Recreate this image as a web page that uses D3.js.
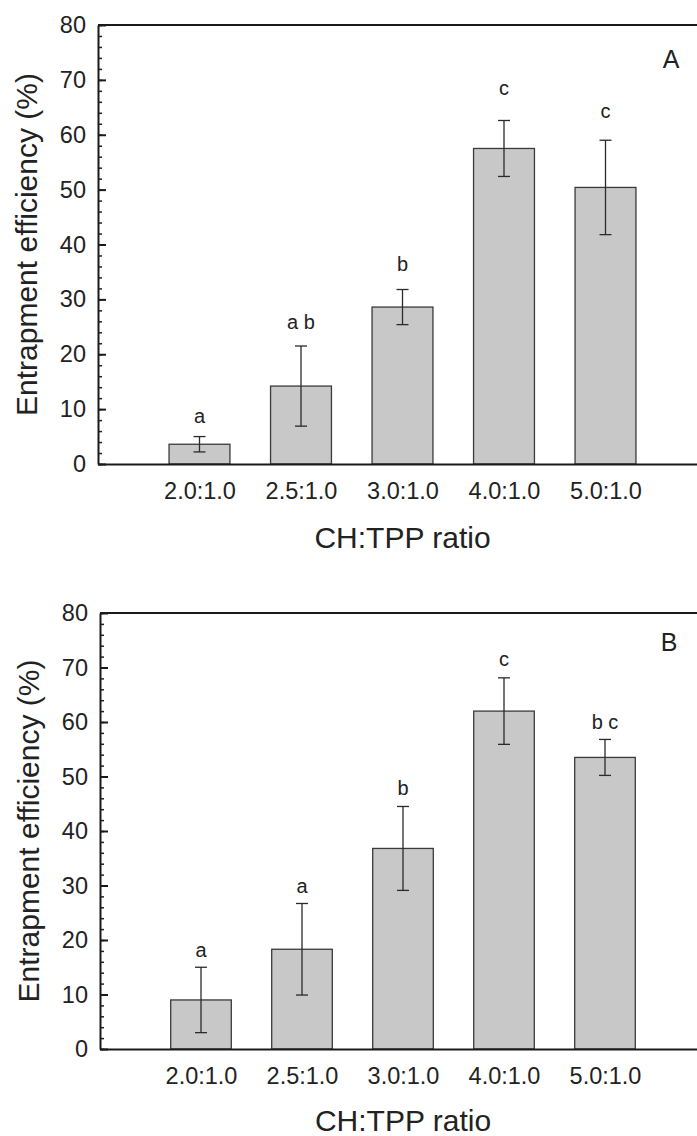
<!DOCTYPE html>
<html>
<head>
<meta charset="utf-8">
<script src="https://cdn.jsdelivr.net/npm/d3@7"></script>
<style>
  body { margin: 0; background: #fff; }
  svg { display: block; font-family: Arial, "Liberation Sans", sans-serif; }
</style>
</head>
<body>
<svg id="chart" width="697" height="1136"></svg>
<script>
// --- data ---
var ratios = ["2.0:1.0", "2.5:1.0", "3.0:1.0", "4.0:1.0", "5.0:1.0"];
var yTicks = [0, 10, 20, 30, 40, 50, 60, 70, 80];

var meansA = [3.6, 14.2, 28.6, 57.5, 50.4];
var errA = [1.4, 7.3, 3.2, 5.1, 8.6];
var lettersA = ["a", "a b", "b", "c", "c"];
var letterAtA = [7.5, 24.6, 35.1, 67.2, 63.1];

var meansB = [9.0, 18.3, 36.8, 62.0, 53.5];
var errB = [6.0, 8.4, 7.7, 6.1, 3.3];
var lettersB = ["a", "a", "b", "c", "b c"];
var letterAtB = [16.9, 28.6, 46.6, 70.2, 58.7];

var svg = d3.select("#chart");

// panel layout (pixels)
var panels = [
  { tag: "A", means: meansA, err: errA, letters: lettersA, letterAt: letterAtA,
    x0: 98, x1: 707, yTop: 25, yBot: 464, titleX: 37, xTitleY: 548, tagX: 671, tagY: 68 },
  { tag: "B", means: meansB, err: errB, letters: lettersB, letterAt: letterAtB,
    x0: 100, x1: 706, yTop: 613, yBot: 1049, titleX: 39, xTitleY: 1131, tagX: 669, tagY: 651 }
];

panels.forEach(function(p) {
  var x = d3.scalePoint().domain(ratios).range([p.x0, p.x1]).padding(1);
  var y = d3.scaleLinear().domain([0, 80]).range([p.yBot, p.yTop]);
  var bw = x.step() * 0.6;
  var g = svg.append("g");

  var rows = ratios.map(function(r, i) {
    return { r: r, m: p.means[i], e: p.err[i], l: p.letters[i], la: p.letterAt[i] };
  });

  // bars
  g.selectAll("rect.bar").data(rows).enter().append("rect")
    .attr("class", "bar")
    .attr("x", function(d) { return x(d.r) - bw / 2; })
    .attr("y", function(d) { return y(d.m); })
    .attr("width", bw)
    .attr("height", function(d) { return y(0) - y(d.m); })
    .attr("fill", "#c8c8c8")
    .attr("stroke", "#3a3a3a")
    .attr("stroke-width", 1.3);

  // error bars
  var eb = g.selectAll("g.err").data(rows).enter().append("g").attr("class", "err")
    .attr("stroke", "#2a2a2a").attr("stroke-width", 1.3);
  eb.append("line")
    .attr("x1", function(d) { return x(d.r); }).attr("x2", function(d) { return x(d.r); })
    .attr("y1", function(d) { return y(d.m - d.e); }).attr("y2", function(d) { return y(d.m + d.e); });
  eb.append("line")
    .attr("x1", function(d) { return x(d.r) - 6; }).attr("x2", function(d) { return x(d.r) + 6; })
    .attr("y1", function(d) { return y(d.m + d.e); }).attr("y2", function(d) { return y(d.m + d.e); });
  eb.append("line")
    .attr("x1", function(d) { return x(d.r) - 6; }).attr("x2", function(d) { return x(d.r) + 6; })
    .attr("y1", function(d) { return y(d.m - d.e); }).attr("y2", function(d) { return y(d.m - d.e); });

  // significance letters
  g.selectAll("text.sig").data(rows).enter().append("text")
    .attr("class", "sig")
    .attr("x", function(d) { return x(d.r); })
    .attr("y", function(d) { return y(d.la); })
    .attr("text-anchor", "middle")
    .attr("font-size", 20)
    .attr("fill", "#222")
    .text(function(d) { return d.l; });

  // minor y ticks
  g.append("g").attr("transform", "translate(" + p.x0 + ",0)")
    .call(d3.axisLeft(y).tickValues(d3.range(0, 81, 2)).tickSizeInner(-4).tickSizeOuter(0).tickFormat(""))
    .call(function(a) { a.select(".domain").remove(); a.selectAll("line").attr("stroke", "#222").attr("stroke-width", 1.5); });

  // y axis
  g.append("g").attr("transform", "translate(" + p.x0 + ",0)")
    .call(d3.axisLeft(y).tickValues(yTicks).tickSizeInner(-8).tickSizeOuter(0).tickPadding(12))
    .call(function(a) {
      a.select(".domain").attr("stroke", "#1a1a1a").attr("stroke-width", 2);
      a.selectAll("line").attr("stroke", "#1a1a1a").attr("stroke-width", 2);
      a.selectAll("text").attr("font-size", 23.5).attr("font-family", null).attr("fill", "#222");
    });

  // x axis
  g.append("g").attr("transform", "translate(0," + p.yBot + ")")
    .call(d3.axisBottom(x).tickSize(0).tickPadding(18))
    .call(function(a) {
      a.select(".domain").attr("stroke", "#1a1a1a").attr("stroke-width", 2);
      a.selectAll("text").attr("font-size", 23.5).attr("font-family", null).attr("fill", "#222");
    });

  // top frame
  g.append("line")
    .attr("x1", p.x0).attr("x2", p.x1).attr("y1", y(80)).attr("y2", y(80))
    .attr("stroke", "#1a1a1a").attr("stroke-width", 2);

  // titles
  g.append("text")
    .attr("transform", "rotate(-90)")
    .attr("x", -(p.yTop + p.yBot) / 2)
    .attr("y", p.titleX)
    .attr("text-anchor", "middle")
    .attr("font-size", 30)
    .attr("fill", "#222")
    .text("Entrapment efficiency (%)");

  g.append("text")
    .attr("x", (p.x0 + p.x1) / 2)
    .attr("y", p.xTitleY)
    .attr("text-anchor", "middle")
    .attr("font-size", 30)
    .attr("fill", "#222")
    .text("CH:TPP ratio");

  g.append("text")
    .attr("x", p.tagX).attr("y", p.tagY)
    .attr("text-anchor", "middle")
    .attr("font-size", 25)
    .attr("fill", "#222")
    .text(p.tag);
});
</script>
</body>
</html>
